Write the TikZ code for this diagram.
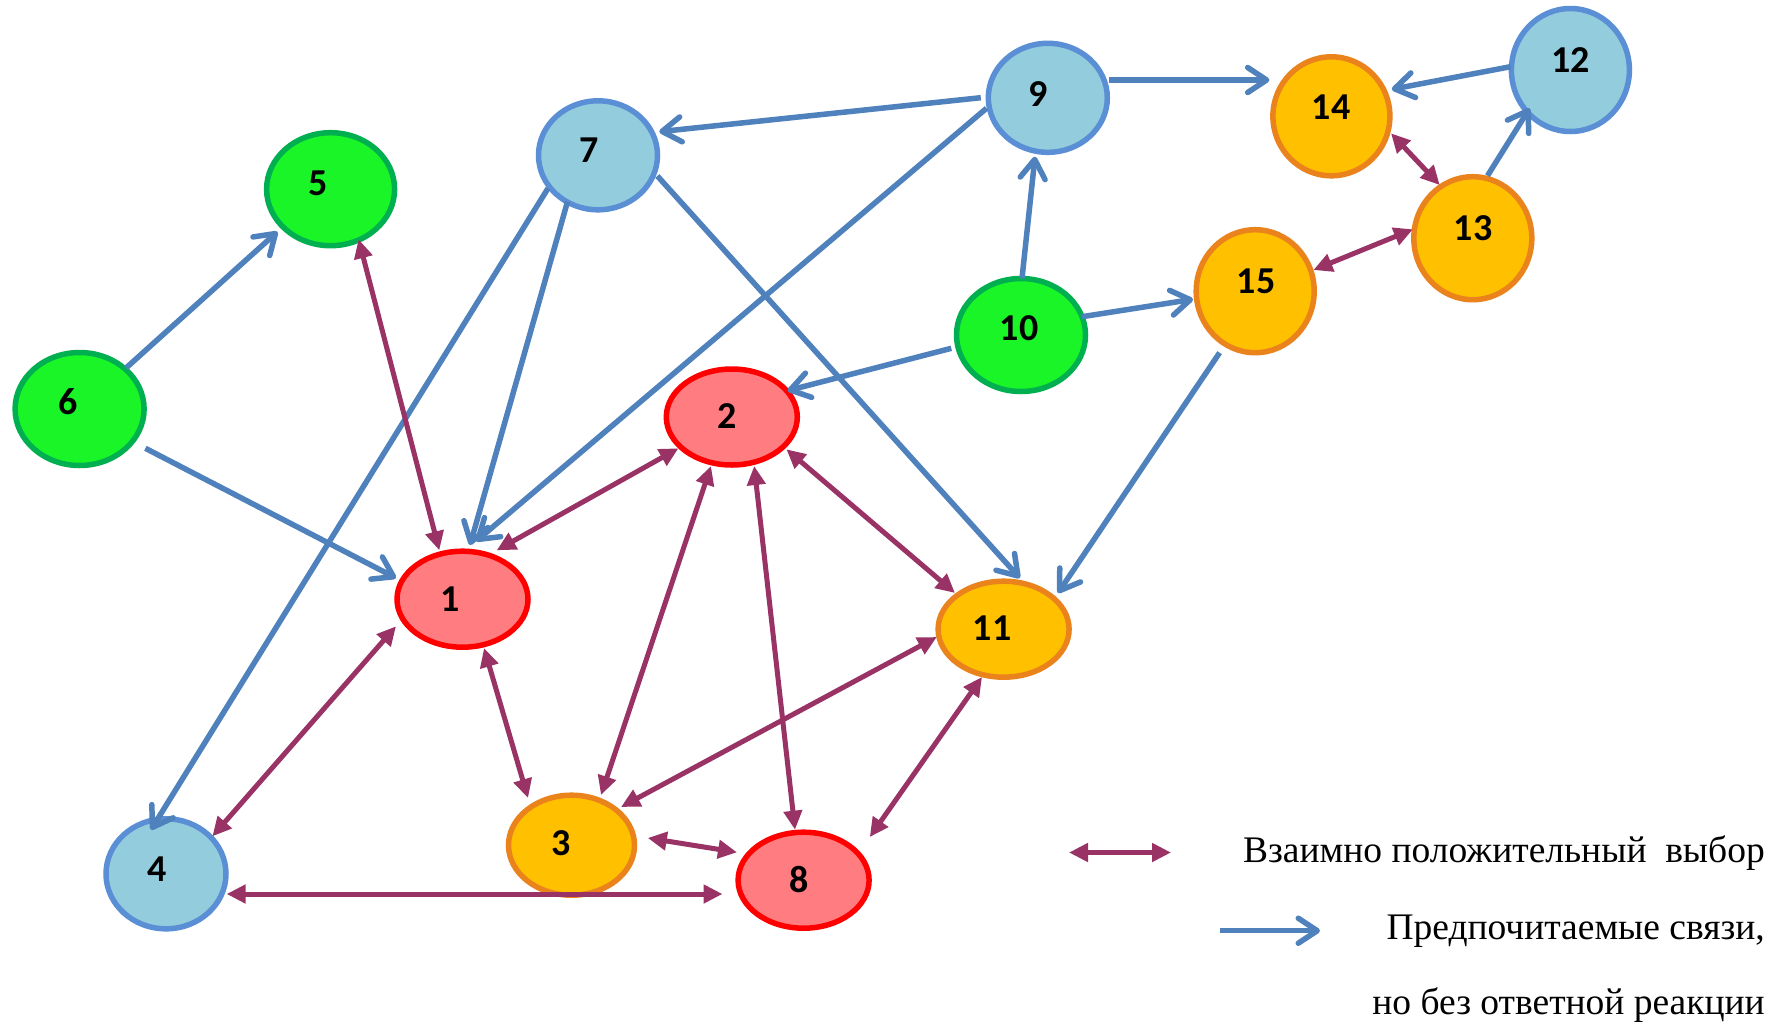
\documentclass[tikz,border=0pt]{standalone}
\usepackage{fontspec}
\setmainfont{Liberation Serif}
\newfontfamily\labfont{Carlito}
\usetikzlibrary{arrows.meta,calc,shapes.geometric}
\definecolor{redfill}{HTML}{FF7C80}
\definecolor{redline}{HTML}{FF0000}
\definecolor{orfill}{HTML}{FFC000}
\definecolor{orline}{HTML}{EB831C}
\definecolor{bluefill}{HTML}{93CDDD}
\definecolor{blueline}{HTML}{5B8FD5}
\definecolor{grfill}{HTML}{1AF527}
\definecolor{grline}{HTML}{00B050}
\definecolor{arrblue}{HTML}{4F81BD}
\definecolor{arrpur}{HTML}{993366}
\tikzset{
  vtx/.style={ellipse, draw, line width=5.5pt, inner sep=0pt},
  redv/.style={vtx, fill=redfill, draw=redline},
  orv/.style={vtx, fill=orfill, draw=orline},
  bluev/.style={vtx, fill=bluefill, draw=blueline},
  grv/.style={vtx, fill=grfill, draw=grline},
  lab/.style={font=\labfont\bfseries\fontsize{38}{38}\selectfont, inner sep=0pt, text height=24pt, text depth=0pt},
  pref/.style={draw=arrblue, line width=5.5pt, -{Straight Barb[length=19pt,width=25pt,round]}},
  mutual/.style={draw=arrpur, line width=5pt, {Triangle[length=19pt,width=18pt]}-{Triangle[length=19pt,width=18pt]}},
  legtext/.style={font=\fontsize{37.5}{37.5}\selectfont, inner sep=0pt, anchor=base east}
}
\begin{document}
\begin{tikzpicture}[x=1pt,y=-1pt]
\fill[white] (0,0) rectangle (1789,1026);
\useasboundingbox (0,0) rectangle (1789,1026);
% vertices
\node[redv, minimum width=131pt, minimum height=96pt] (n1) at (462.5,599.2) {};
\node[redv, minimum width=131pt, minimum height=96pt] (n2) at (731.8,417) {};
\node[orv, minimum width=126pt, minimum height=100pt] (n3) at (571.5,845.2) {};
\node[bluev, minimum width=120pt, minimum height=110pt] (n4) at (166,873.8) {};
\node[grv, minimum width=128pt, minimum height=113pt] (n5) at (330.6,189.2) {};
\node[grv, minimum width=129pt, minimum height=113pt] (n6) at (79.6,409) {};
\node[bluev, minimum width=119pt, minimum height=109pt] (n7) at (598,155.3) {};
\node[redv, minimum width=131pt, minimum height=96pt] (n8) at (803.6,880.2) {};
\node[bluev, minimum width=119pt, minimum height=109pt] (n9) at (1047.8,97.8) {};
\node[grv, minimum width=129pt, minimum height=113pt] (n10) at (1021,335) {};
\node[orv, minimum width=131pt, minimum height=96pt] (n11) at (1003.6,629.2) {};
\node[bluev, minimum width=118pt, minimum height=123pt] (n12) at (1570.4,70) {};
\node[orv, minimum width=118pt, minimum height=123pt] (n13) at (1472.8,238.2) {};
\node[orv, minimum width=117pt, minimum height=119pt] (n14) at (1331.4,116.3) {};
\node[orv, minimum width=118pt, minimum height=123pt] (n15) at (1255.2,291.2) {};
% labels
\node[lab] (t1) at (449.7,599) {1};
\node[lab] (t2) at (727,416.7) {2};
\node[lab] (t3) at (560.7,843) {3};
\node[lab] (t4) at (157,869) {4};
\node[lab] (t5) at (318,183) {5};
\node[lab] (t6) at (67.7,402.7) {6};
\node[lab] (t7) at (589,150) {7};
\node[lab] (t8) at (799,880.7) {8};
\node[lab] (t9) at (1038,94) {9};
\node[lab] (t10) at (1019,328) {10};
\node[lab] (t11) at (992,628.7) {11};
\node[lab] (t12) at (1570.5,60.7) {12};
\node[lab] (t13) at (1473,228.3) {13};
\node[lab] (t14) at (1331,107.3) {14};
\node[lab] (t15) at (1256,281.7) {15};
% preferred (blue) connections
\draw[pref] ($(n6)+(46.4,-41)$) -- ($(n5)+(-53.1,42.5)$);
\draw[pref] ($(n6)+(65.8,39.3)$) -- ($(n1)+(-66.5,-21.2)$);
\draw[pref] ($(n7)+(-50,33)$) -- ($(n4)+(-15,-44.1)$);
\draw[pref] ($(n7)+(-30.5,46.4)$) -- ($(n1)+(7.5,-54.2)$);
\draw[pref] ($(n7)+(59.4,20.7)$) -- ($(n11)+(16.2,-51.2)$);
\draw[pref] ($(n9)+(-67,-0.1)$) -- ($(n7)+(61.3,-23.6)$);
\draw[pref] ($(n9)+(-61.3,10.5)$) -- ($(n1)+(13.5,-58)$);
\draw[pref] ($(n9)+(61.2,-17.8)$) -- ($(n14)+(-62,-36.3)$);
\draw[pref] ($(n10)+(1,-56.7)$) -- ($(n9)+(-12.8,58.9)$);
\draw[pref] ($(n10)+(61,-18.3)$) -- ($(n15)+(-62.2,8.1)$);
\draw[pref] ($(n10)+(-69.7,13.3)$) -- ($(n2)+(55.7,-26.3)$);
\draw[pref] ($(n15)+(-35.6,61.5)$) -- ($(n11)+(54.4,-36.2)$);
\draw[pref] ($(n12)+(-59.9,-3.3)$) -- ($(n14)+(60.4,-27)$);
\draw[pref] ($(n13)+(14.7,-62.5)$) -- ($(n12)+(-40.8,38.3)$);
% mutual (purple) choices
\draw[mutual] ($(n1)+(-23.2,-48.9)$) -- ($(n5)+(28,50.1)$);
\draw[mutual] ($(n1)+(34.2,-48.9)$) -- ($(n2)+(-53.3,31.3)$);
\draw[mutual] ($(n1)+(-66.5,27.1)$) -- ($(n4)+(46.4,-37.5)$);
\draw[mutual] ($(n1)+(21.5,48.8)$) -- ($(n3)+(-43.5,-47.2)$);
\draw[mutual] ($(n4)+(60.6,20.2)$) -- ($(n8)+(-81.1,13.8)$);
\draw[mutual] ($(n3)+(29.5,-50.2)$) -- ($(n2)+(-20.8,49)$);
\draw[mutual] ($(n2)+(22.4,49)$) -- ($(n8)+(-8.6,-50.5)$);
\draw[mutual] ($(n2)+(54.6,32.3)$) -- ($(n11)+(-48.6,-36.2)$);
\draw[mutual] ($(n3)+(49.5,-38.2)$) -- ($(n11)+(-66.8,7.8)$);
\draw[mutual] ($(n3)+(76.3,-7.2)$) -- ($(n8)+(-66.6,-27.9)$);
\draw[mutual] ($(n8)+(66.2,-43.2)$) -- ($(n11)+(-21.6,47.8)$);
\draw[mutual] ($(n14)+(59.6,17)$) -- ($(n13)+(-33.1,-53.2)$);
\draw[mutual] ($(n15)+(58.2,-21.2)$) -- ($(n13)+(-59.9,-8.9)$);
% legend
\coordinate (la1) at (1069,852.5);
\coordinate (la2) at (1171,852.5);
\coordinate (lb1) at (1220,930.7);
\coordinate (lb2) at (1320,930.7);
\draw[mutual] (la1) -- (la2);
\draw[pref] (lb1) -- (lb2);
\node[legtext] (lg1) at (1765,862.5) {Взаимно положительный~ выбор};
\node[legtext] (lg2) at (1765,939) {Предпочитаемые связи,};
\node[legtext] (lg3) at (1765,1014) {но без ответной реакции};
\end{tikzpicture}
\end{document}
